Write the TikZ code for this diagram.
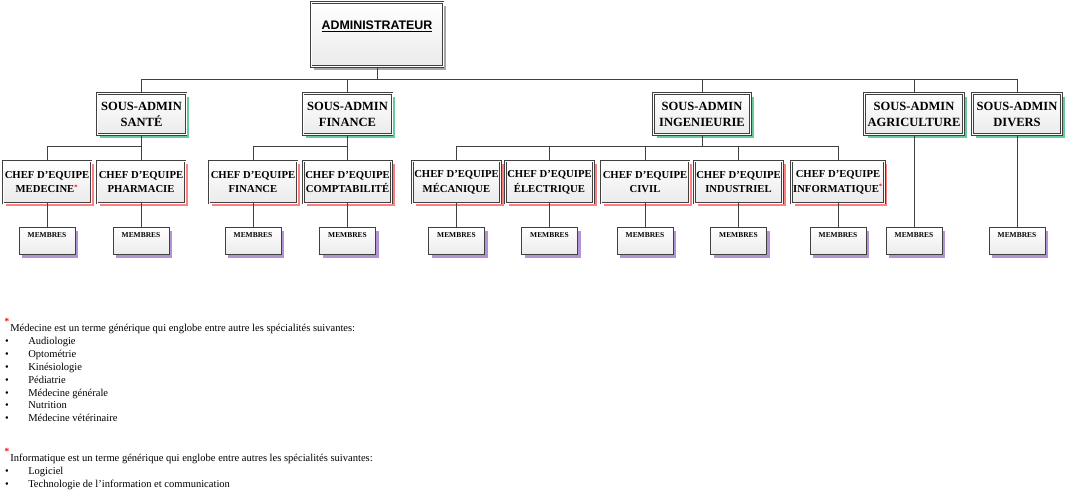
\documentclass[tikz,border=0pt]{standalone}
\usepackage{fontspec}
\setmainfont{Liberation Serif}
\newfontfamily\adminfont{Liberation Sans}
\usetikzlibrary{shadows}

\definecolor{shadm}{HTML}{A6A6A6}
\definecolor{shsous}{HTML}{66CC99}
\definecolor{shchef}{HTML}{FF7F7F}
\definecolor{shmemb}{HTML}{B294D4}
\definecolor{lnk}{HTML}{404040}

\tikzset{
  box/.style={draw=lnk, double=white, double distance=0.75pt, line width=0.7pt,
    top color=white, bottom color=black!8, align=center, inner sep=1pt},
  adminbox/.style={box, minimum width=99pt, minimum height=48pt,
    font=\adminfont\bfseries\fontsize{9.3}{11}\selectfont,
    text height=7pt, text depth=14.5pt,
    drop shadow={shadow xshift=2.25pt, shadow yshift=-2.25pt, fill=shadm, opacity=1}},
  sousbox/.style={box, minimum width=66.75pt, minimum height=30.75pt,
    font=\bfseries\fontsize{9.4}{12}\selectfont,
    drop shadow={shadow xshift=2.25pt, shadow yshift=-2.25pt, fill=shsous, opacity=1}},
  chefbox/.style={box, minimum width=66pt, minimum height=31.5pt,
    font=\bfseries\fontsize{8}{11}\selectfont,
    drop shadow={shadow xshift=2.25pt, shadow yshift=-2.25pt, fill=shchef, opacity=1}},
  membres/.style={draw=lnk, line width=0.75pt, top color=white, bottom color=black!8,
    minimum width=42pt, minimum height=20.25pt, inner sep=1pt,
    font=\bfseries\fontsize{5.6}{7}\selectfont, text height=4pt, text depth=9.4pt,
    drop shadow={shadow xshift=2.25pt, shadow yshift=-2.25pt, fill=shmemb, opacity=1}},
  link/.style={draw=lnk, line width=0.75pt},
  note/.style={inner sep=0pt, font=\fontsize{7.9}{9}\selectfont},
  redstar/.style={inner sep=0pt, text=red, font=\bfseries\fontsize{7}{8}\selectfont}
}
\newcommand{\fnmark}{\textsuperscript{\textcolor{red}{\fontsize{5}{5}\selectfont*}}}

\begin{document}
\begin{tikzpicture}[x=0.75pt,y=-0.75pt]
\useasboundingbox (0,0) rectangle (1065,494);

% administrateur
\node[adminbox] (admin) at (377,34.5) {\underline{ADMINISTRATEUR}};

% sous-admins
\node[sousbox] (sante) at (141.5,114) {SOUS-ADMIN\\SANTÉ};
\node[sousbox] (finance) at (347.5,114) {SOUS-ADMIN\\FINANCE};
\node[sousbox, minimum width=72.75pt] (ing) at (702,114) {SOUS-ADMIN\\INGENIEURIE};
\node[sousbox, minimum width=74.25pt] (agri) at (914,114) {SOUS-ADMIN\\AGRICULTURE};
\node[sousbox] (divers) at (1017,114) {SOUS-ADMIN\\DIVERS};

% chefs d'equipe
\node[chefbox] (medecine) at (47,182) {CHEF D’EQUIPE\\MEDECINE\fnmark};
\node[chefbox] (pharmacie) at (141,182) {CHEF D’EQUIPE\\PHARMACIE};
\node[chefbox] (cfinance) at (253,182) {CHEF D’EQUIPE\\FINANCE};
\node[chefbox] (compta) at (347.5,182) {CHEF D’EQUIPE\\COMPTABILITÉ};
\node[chefbox] (meca) at (456.5,182) {CHEF D’EQUIPE\\MÉCANIQUE};
\node[chefbox] (elec) at (549.5,182) {CHEF D’EQUIPE\\ÉLECTRIQUE};
\node[chefbox] (civil) at (645,182) {CHEF D’EQUIPE\\CIVIL};
\node[chefbox] (indus) at (738.5,182) {CHEF D’EQUIPE\\INDUSTRIEL};
\node[chefbox] (info) at (838,182) {CHEF D’EQUIPE\\INFORMATIQUE\fnmark};

% membres
\foreach \c in {medecine,pharmacie,cfinance,compta,meca,elec,civil,indus,info,agri,divers}
  \node[membres] (m\c) at (\c |- 0,241) {MEMBRES};

% connecteurs
\draw[link] (admin.south) -- ++(0,12.5) coordinate (topbus);
\foreach \s in {sante,finance,ing,agri,divers}
  \draw[link] (\s.north) |- (topbus);
\draw[link] (sante.south) -- ++(0,12) coordinate (santebus);
\foreach \c in {medecine,pharmacie}
  \draw[link] (\c.north) |- (santebus);
\draw[link] (finance.south) -- ++(0,12) coordinate (finbus);
\foreach \c in {cfinance,compta}
  \draw[link] (\c.north) |- (finbus);
\draw[link] (ing.south) -- ++(0,12) coordinate (ingbus);
\foreach \c in {meca,elec,civil,indus,info}
  \draw[link] (\c.north) |- (ingbus);
\foreach \c in {medecine,pharmacie,cfinance,compta,meca,elec,civil,indus,info,agri,divers}
  \draw[link] (\c.south) -- (m\c.north);

% notes
\node[redstar] (medstar) at (7,321) {*};
\node[note, anchor=base west] (medtxt) at (10,331.5) {Médecine est un terme générique qui englobe entre autre les spécialités suivantes:};
\foreach \t [count=\i] in {Audiologie,Optométrie,Kinésiologie,Pédiatrie,Médecine générale,Nutrition,Médecine vétérinaire}{
  \node[note, anchor=base] (medb\i) at (7,331.5+12.9*\i) {•};
  \node[note, anchor=base west] (medi\i) at (28,331.5+12.9*\i) {\t};
}
\node[redstar] (infstar) at (7,451) {*};
\node[note, anchor=base west] (inftxt) at (10,461.5) {Informatique est un terme générique qui englobe entre autres les spécialités suivantes:};
\foreach \t [count=\i] in {Logiciel,Technologie de l’information et communication}{
  \node[note, anchor=base] (infb\i) at (7,461.5+12.9*\i) {•};
  \node[note, anchor=base west] (infi\i) at (28,461.5+12.9*\i) {\t};
}
\end{tikzpicture}
\end{document}
